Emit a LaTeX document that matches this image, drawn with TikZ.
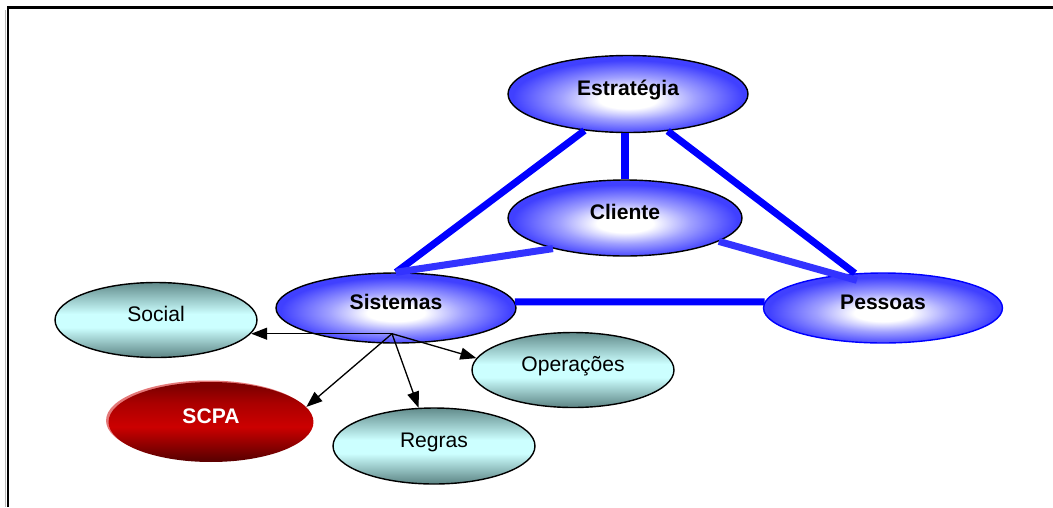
\documentclass[tikz,border=0pt]{standalone}
\usepackage{fontspec}
\setmainfont{Liberation Sans}
\usetikzlibrary{arrows.meta,shapes.geometric}

\definecolor{bubbleblue}{RGB}{64,64,255}
\definecolor{bubblemid}{RGB}{160,160,255}
\definecolor{linkblue}{RGB}{0,0,255}
\definecolor{softblue}{RGB}{51,51,255}
\definecolor{tealdark}{RGB}{92,132,132}
\definecolor{tealtop}{RGB}{98,140,140}
\definecolor{paleaqua}{RGB}{204,255,255}
\definecolor{scpadark}{RGB}{95,0,0}
\definecolor{scpamid}{RGB}{204,0,0}
\definecolor{scpadeep}{RGB}{170,0,0}
\definecolor{scpatop}{RGB}{128,0,0}
\definecolor{scparim}{RGB}{228,120,120}

% fills for the three kinds of ellipse
\pgfdeclareradialshading{glow}{\pgfpoint{0bp}{-4bp}}{color(0bp)=(white); color(6bp)=(white);
  color(14bp)=(bubblemid); color(24bp)=(bubbleblue); color(50bp)=(bubbleblue)}
\pgfdeclareverticalshading{aqua}{100bp}{color(0bp)=(tealdark); color(25bp)=(tealdark);
  color(45bp)=(paleaqua); color(54bp)=(paleaqua); color(75bp)=(tealtop); color(100bp)=(tealtop)}
\pgfdeclareverticalshading{ruby}{100bp}{color(0bp)=(scpadark); color(27bp)=(scpadark);
  color(47bp)=(scpamid); color(62bp)=(scpadeep); color(72bp)=(scpatop); color(75bp)=(scpatop);
  color(100bp)=(scpatop)}

\begin{document}
\begin{tikzpicture}[x=0.02cm,y=-0.02cm,
  oval/.style={ellipse,inner sep=0pt,text height=0.3cm,text depth=0.24cm,font=\fontsize{12}{14}\selectfont},
  core/.style={oval,draw=black,line width=0.8pt,shading=glow,font=\fontsize{12}{14}\selectfont\bfseries,
    minimum width=4.8cm,minimum height=1.4cm},
  side/.style={oval,draw=black,line width=0.8pt,shading=aqua,minimum width=4.04cm,minimum height=1.5cm},
  tie/.style={linkblue,line width=4pt},
  arr/.style={-{Triangle[length=0.32cm,width=0.24cm]},line width=0.75pt}]
  \useasboundingbox (0,0) rectangle (1053,507);

  % open frame, top and left only
  \draw[gray!55,line width=0.6pt] (5.5,10) -- (5.5,507);
  \draw[line width=1.7pt] (8,507) -- (8,7.5) -- (1053,7.5);

  \node[core,minimum height=1.54cm] (est) at (628,94) {Estratégia};
  \node[core,minimum width=4.68cm,minimum height=1.52cm] (cli) at (625,218) {Cliente};
  \node[core] (sis) at (396,308) {Sistemas};
  \node[core,draw=linkblue,minimum width=4.78cm] (pes) at (883,308) {Pessoas};

  \node[side] (soc) at (156,320) {Social};
  \node[side] (ops) at (573,370) {Operações};
  \node[side,minimum height=1.52cm] (reg) at (434,446) {Regras};
  % red one has a light rim showing at its upper left
  \node[oval,shading=ruby,text=white,font=\fontsize{12}{14}\selectfont\bfseries,
    preaction={fill=scparim,transform canvas={shift={(-0.05cm,0.03cm)}}},
    minimum width=4.1cm,minimum height=1.6cm] (scpa) at (211,422) {SCPA};

  % thick links of the triangle
  \draw[tie] (est.220) -- (sis.north);
  \draw[tie] (cli.north |- est.south) -- (cli.north);
  \draw[tie] (est.317) -- (pes.129);
  \draw[tie,softblue] (cli.203) -- (sis.north);
  \draw[tie,softblue] (cli.346) -- ([shift={(2,7)}]pes.129);
  \draw[tie] (sis.3) -- (pes.177);

  % arrows out of Sistemas
  \coordinate (hub) at ([shift={(-4,-10)}]sis.south);
  \draw[arr] (hub) -- (hub -| soc.352);
  \draw[arr] (hub) -- (ops.173);
  \draw[arr] (hub) -- (reg.112);
  \draw[arr] (hub) -- (scpa.9);
\end{tikzpicture}
\end{document}
